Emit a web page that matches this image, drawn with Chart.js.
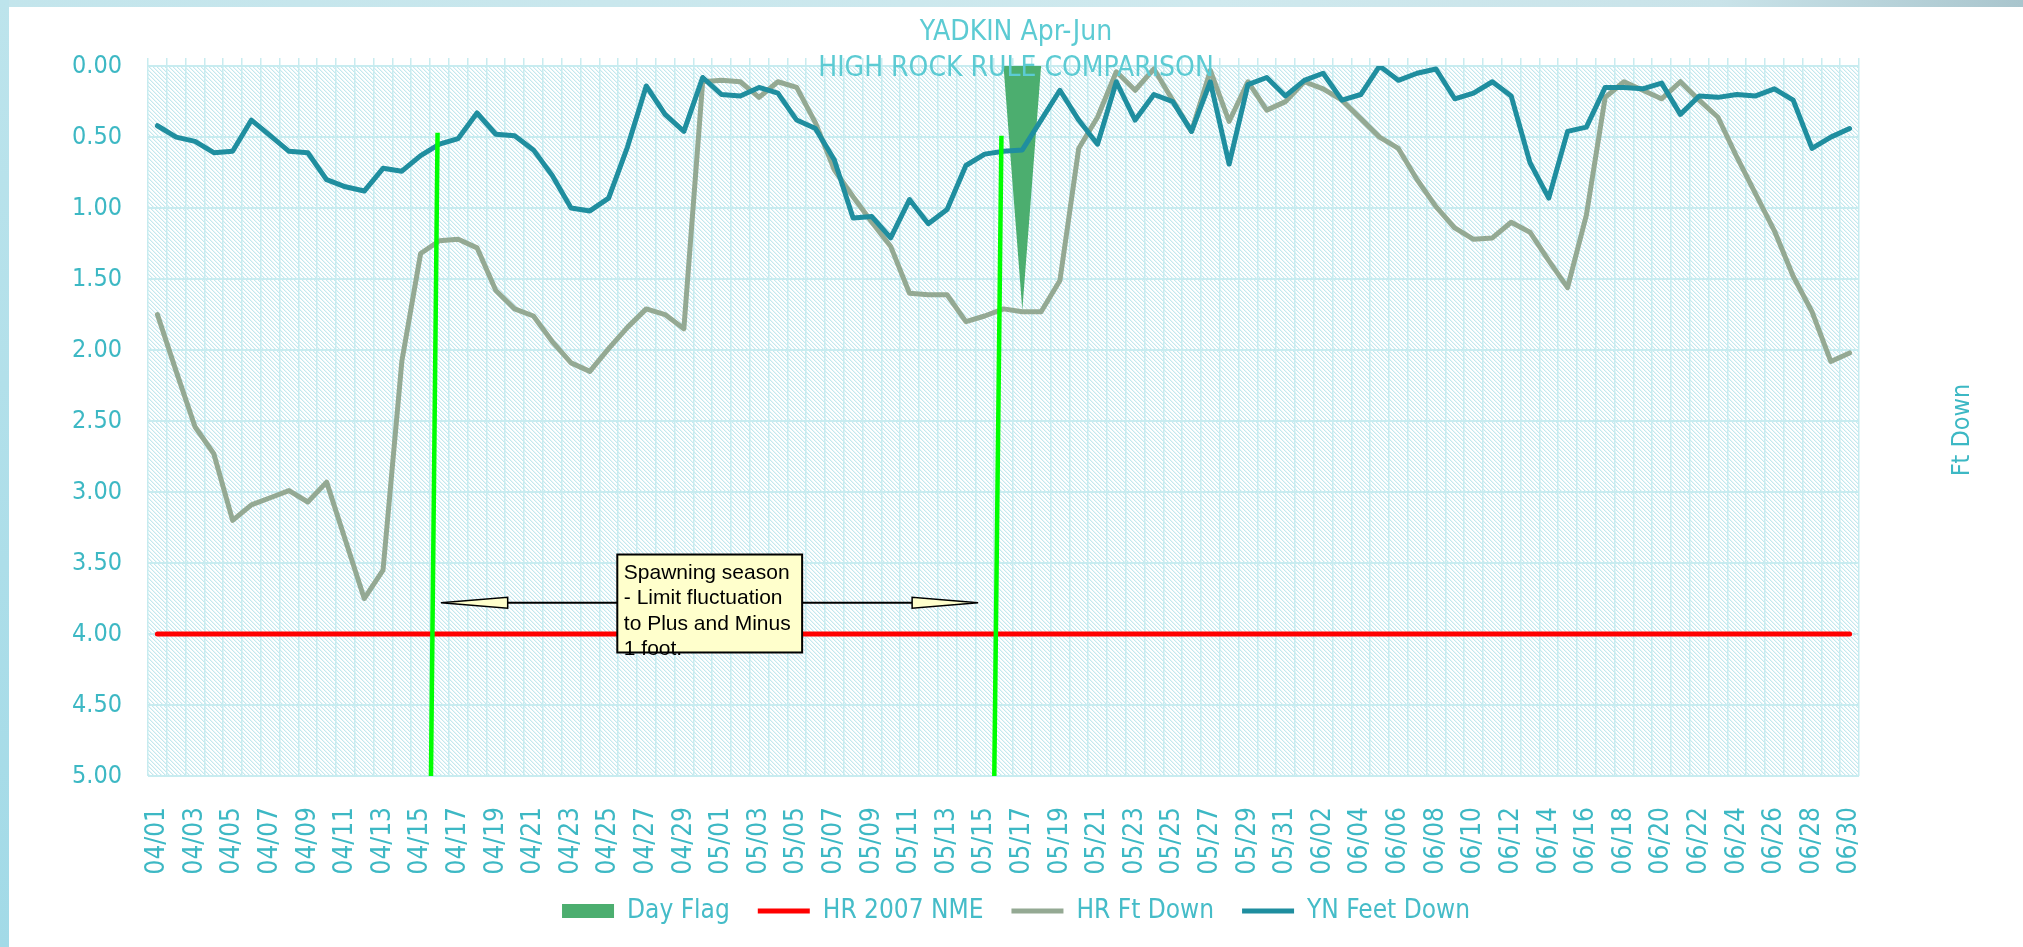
<!DOCTYPE html>
<html><head><meta charset="utf-8">
<script src="https://cdn.jsdelivr.net/npm/chart.js@4.4.1/dist/chart.umd.min.js"></script>
<style>
html,body{margin:0;padding:0;background:#fff;overflow:hidden}
#wrap{position:relative;width:2023px;height:947px;background:#fff}
#topbar{position:absolute;left:0;top:0;width:2023px;height:7px;background:linear-gradient(to right,#c3e5ec 0%,#cfe9ee 60%,#c9e3e9 85%,#a9c5cd 100%)}
#leftbar{position:absolute;left:0;top:0;width:9px;height:947px;background:linear-gradient(to bottom,#bde4ec,#a2dae7)}
#c{position:absolute;left:9px;top:7px}
</style></head><body>
<div id="wrap"><div id="topbar"></div><div id="leftbar"></div><canvas id="c" width="2014" height="940"></canvas></div>
<script>
const categories = [
 '04/01','04/02','04/03','04/04','04/05','04/06','04/07','04/08','04/09','04/10',
 '04/11','04/12','04/13','04/14','04/15','04/16','04/17','04/18','04/19','04/20',
 '04/21','04/22','04/23','04/24','04/25','04/26','04/27','04/28','04/29','04/30',
 '05/01','05/02','05/03','05/04','05/05','05/06','05/07','05/08','05/09','05/10',
 '05/11','05/12','05/13','05/14','05/15','05/16','05/17','05/18','05/19','05/20',
 '05/21','05/22','05/23','05/24','05/25','05/26','05/27','05/28','05/29','05/30','05/31',
 '06/01','06/02','06/03','06/04','06/05','06/06','06/07','06/08','06/09','06/10',
 '06/11','06/12','06/13','06/14','06/15','06/16','06/17','06/18','06/19','06/20',
 '06/21','06/22','06/23','06/24','06/25','06/26','06/27','06/28','06/29','06/30'];

const dayFlag = [
 0,0,0,0,0,0,0,0,0,0, 0,0,0,0,0,0,0,0,0,0, 0,0,0,0,0,0,0,0,0,0,
 0,0,0,0,0,0,0,0,0,0, 0,0,0,0,0,0,1.72,0,0,0, 0,0,0,0,0,0,0,0,0,0,0,
 0,0,0,0,0,0,0,0,0,0, 0,0,0,0,0,0,0,0,0,0, 0,0,0,0,0,0,0,0,0,0];

const hr2007Nme = [
 4,4,4,4,4,4,4,4,4,4, 4,4,4,4,4,4,4,4,4,4, 4,4,4,4,4,4,4,4,4,4,
 4,4,4,4,4,4,4,4,4,4, 4,4,4,4,4,4,4,4,4,4, 4,4,4,4,4,4,4,4,4,4,4,
 4,4,4,4,4,4,4,4,4,4, 4,4,4,4,4,4,4,4,4,4, 4,4,4,4,4,4,4,4,4,4];

const hrFtDown = [
 1.75,2.15,2.54,2.73,3.20,3.09,3.04,2.99,3.07,2.93,
 3.34,3.75,3.55,2.08,1.32,1.23,1.22,1.28,1.58,1.71,
 1.76,1.94,2.09,2.15,1.99,1.84,1.71,1.75,1.85,0.11,
 0.10,0.11,0.22,0.11,0.15,0.40,0.73,0.92,1.10,1.27,
 1.60,1.61,1.61,1.80,1.76,1.71,1.73,1.73,1.51,0.58,
 0.36,0.04,0.17,0.02,0.24,0.46,0.03,0.39,0.11,0.31,0.25,
 0.11,0.16,0.24,0.37,0.50,0.58,0.80,0.99,1.14,1.22,
 1.21,1.10,1.17,1.37,1.56,1.05,0.22,0.11,0.17,0.23,
 0.11,0.24,0.36,0.64,0.90,1.16,1.48,1.73,2.08,2.02];

const ynFeetDown = [
 0.42,0.50,0.53,0.61,0.60,0.38,0.49,0.60,0.61,0.80,
 0.85,0.88,0.72,0.74,0.63,0.55,0.51,0.33,0.48,0.49,
 0.59,0.77,1.00,1.02,0.93,0.57,0.14,0.34,0.46,0.08,
 0.20,0.21,0.15,0.19,0.38,0.44,0.66,1.07,1.06,1.21,
 0.94,1.11,1.01,0.70,0.62,0.60,0.59,0.38,0.17,0.38,
 0.55,0.11,0.38,0.20,0.25,0.46,0.11,0.69,0.13,0.08,0.21,
 0.10,0.05,0.24,0.20,0.00,0.10,0.05,0.02,0.23,0.19,
 0.11,0.21,0.68,0.93,0.46,0.43,0.15,0.15,0.16,0.12,
 0.34,0.21,0.22,0.20,0.21,0.16,0.24,0.58,0.50,0.44];

const yMin = 0, yMax = 5, yStep = 0.5;
const titleLines = ['YADKIN Apr-Jun', 'HIGH ROCK RULE COMPARISON'];
const rightAxisTitle = 'Ft Down';
const noteLines = ['Spawning season', '- Limit fluctuation', 'to Plus and Minus', '1 foot.'];

// annotation shapes, in data units (x = category index, y = ft down)
const spawnLine1 = [{x:14.90, y:0.47}, {x:14.55, y:5.00}];
const spawnLine2 = [{x:44.89, y:0.49}, {x:44.51, y:5.00}];
const noteBox = {x0:24.46, x1:34.29, y0:3.44, y1:4.13};
const arrowY = 3.78;
const leftArrow = {tail:24.46, base:18.63, tip:15.08};
const rightArrow = {tail:34.29, base:40.14, tip:43.65};

const FONT = "'DejaVu Sans Condensed', 'DejaVu Sans', sans-serif";
const GRID = '#c8ecf0';
const AXIS_TEXT = '#3db8c4';

// hatched plot background tile
const tile = document.createElement('canvas');
tile.width = 4; tile.height = 4;
(function(){
  const g = tile.getContext('2d');
  g.fillStyle = '#ffffff'; g.fillRect(0,0,4,4);
  for (let i = 0; i < 4; i++) {
    g.fillStyle = '#c4e8ee'; g.fillRect(i, i, 1, 1);
    g.fillStyle = '#e8f6f8'; g.fillRect((i+1)%4, i, 1, 1);
  }
})();

const bgPlugin = {
  id: 'hatchBg',
  beforeLayout(chart) {
    // draw the chart title above the plotted series, as in the original
    const tb = chart.titleBlock;
    if (tb) tb._layers = function() { return [{z: 1, draw: (area) => this.draw(area)}]; };
  },
  afterLayout(chart) {
    // nudge legend up a little so it sits where the original does
    if (chart.legend) { chart.legend.top -= 5; chart.legend.bottom -= 5; }
  },
  beforeDraw(chart) {
    const {ctx, chartArea: a} = chart;
    ctx.save();
    ctx.fillStyle = ctx.createPattern(tile, 'repeat');
    ctx.fillRect(a.left, a.top, a.right - a.left, a.bottom - a.top);
    ctx.restore();
  }
};

function drawArrow(ctx, xs, ys, a, yv) {
  const y = ys.getPixelForValue(yv);
  const tail = xs.getPixelForValue(a.tail), base = xs.getPixelForValue(a.base), tip = xs.getPixelForValue(a.tip);
  ctx.strokeStyle = '#000'; ctx.lineWidth = 2;
  ctx.beginPath(); ctx.moveTo(tail, y); ctx.lineTo(base, y); ctx.stroke();
  ctx.beginPath(); ctx.moveTo(tip, y); ctx.lineTo(base, y - 5.5); ctx.lineTo(base, y + 5.5); ctx.closePath();
  ctx.fillStyle = '#ffffcc'; ctx.fill(); ctx.lineWidth = 1.5; ctx.stroke();
}

const notePlugin = {
  id: 'note',
  afterDatasetsDraw(chart) {
    const {ctx} = chart;
    const xs = chart.scales.x2, ys = chart.scales.y;
    const l = xs.getPixelForValue(noteBox.x0), r = xs.getPixelForValue(noteBox.x1);
    const t = ys.getPixelForValue(noteBox.y0), b = ys.getPixelForValue(noteBox.y1);
    ctx.save();
    drawArrow(ctx, xs, ys, leftArrow, arrowY);
    drawArrow(ctx, xs, ys, rightArrow, arrowY);
    ctx.fillStyle = '#ffffcc';
    ctx.fillRect(l, t, r - l, b - t);
    ctx.fillStyle = '#000';
    ctx.font = '21px "Liberation Sans", Arial, sans-serif';
    ctx.textAlign = 'left'; ctx.textBaseline = 'alphabetic';
    noteLines.forEach((s, i) => ctx.fillText(s, l + 6.5, t + 24.5 + i * 25.4));
    ctx.strokeStyle = '#000'; ctx.lineWidth = 2;
    ctx.strokeRect(l, t, r - l, b - t);
    ctx.restore();
  },
  afterDraw(chart) {
    const {ctx, chartArea: a} = chart;
    const y2 = chart.scales.y2;
    ctx.save();
    ctx.translate(y2.left + 103, (a.top + a.bottom) / 2 + 9);
    ctx.rotate(-Math.PI / 2);
    ctx.font = '25px ' + FONT;
    ctx.fillStyle = AXIS_TEXT;
    ctx.textAlign = 'center'; ctx.textBaseline = 'middle';
    ctx.fillText(rightAxisTitle, 0, 0);
    ctx.restore();
  }
};

new Chart(document.getElementById('c'), {
  type: 'line',
  data: {
    labels: categories,
    datasets: [
      {label: 'Day Flag', data: dayFlag, order: 4, fill: 'origin', backgroundColor: '#4cae6f',
       borderColor: 'rgba(0,0,0,0)', borderWidth: 0, pointRadius: 0, tension: 0},
      {label: 'HR 2007 NME', data: hr2007Nme, order: 3, borderColor: '#ff0000', backgroundColor: '#ff0000',
       borderWidth: 5, pointRadius: 0, borderCapStyle: 'round', fill: false},
      {label: 'HR Ft Down', data: hrFtDown, order: 2, borderColor: '#94a993', backgroundColor: '#94a993',
       borderWidth: 5, pointRadius: 0, borderCapStyle: 'round', borderJoinStyle: 'round', fill: false, tension: 0},
      {label: 'YN Feet Down', data: ynFeetDown, order: 1, borderColor: '#1f8e9f', backgroundColor: '#1f8e9f',
       borderWidth: 5, pointRadius: 0, borderCapStyle: 'round', borderJoinStyle: 'round', fill: false, tension: 0},
      {label: 'spawn1', data: spawnLine1, xAxisID: 'x2', order: 0, borderColor: '#00ff00',
       borderWidth: 4.5, pointRadius: 0, fill: false},
      {label: 'spawn2', data: spawnLine2, xAxisID: 'x2', order: 0, borderColor: '#00ff00',
       borderWidth: 4.5, pointRadius: 0, fill: false}
    ]
  },
  plugins: [bgPlugin, notePlugin],
  options: {
    responsive: false,
    animation: false,
    devicePixelRatio: 1,
    layout: {padding: {left: 0, right: 0, top: 0, bottom: 8}},
    scales: {
      x: {
        type: 'category', position: 'bottom', offset: true,
        grid: {offset: true, drawTicks: false, color: GRID, lineWidth: 1.5},
        border: {display: false},
        ticks: {
          autoSkip: false, minRotation: 90, maxRotation: 90, padding: 31,
          color: AXIS_TEXT, font: {family: FONT, size: 26},
          callback: (v, i) => (i % 2 === 0 ? categories[i] : '')
        },
        afterFit: s => { s.height = 99; }
      },
      x3: {
        type: 'category', position: 'top', offset: true,
        grid: {offset: true, drawOnChartArea: false, drawTicks: true, tickLength: 8, color: GRID, lineWidth: 1.5},
        border: {display: false},
        ticks: {display: false},
        afterFit: s => { s.height = 8; }
      },
      x2: {type: 'linear', display: false, min: -0.5, max: categories.length - 0.5},
      y: {
        type: 'linear', position: 'left', reverse: true, min: yMin, max: yMax,
        grid: {drawTicks: false, color: GRID, lineWidth: 2},
        border: {display: false},
        ticks: {stepSize: yStep, padding: 26, color: AXIS_TEXT, font: {family: FONT, size: 25},
                callback: v => Number(v).toFixed(2)},
        afterFit: s => { s.width = 139; }
      },
      y2: {
        type: 'linear', position: 'right', display: true,
        grid: {display: false}, border: {display: false}, ticks: {display: false},
        afterFit: s => { s.width = 164; }
      }
    },
    plugins: {
      title: {
        display: true, text: titleLines, color: '#5ccbd3',
        font: {family: FONT, size: 28, weight: 'normal', lineHeight: 1.27},
        padding: {top: 8.25, bottom: -28.25}
      },
      legend: {
        position: 'bottom',
        labels: {
          usePointStyle: true, pointStyleWidth: 52, boxHeight: 14, padding: 28,
          color: '#45bcc8', font: {family: FONT, size: 26},
          filter: item => item.datasetIndex < 4,
          generateLabels(chart) {
            const items = Chart.defaults.plugins.legend.labels.generateLabels(chart);
            items.sort((a, b) => a.datasetIndex - b.datasetIndex);
            items.forEach(it => { it.pointStyle = it.datasetIndex === 0 ? 'rect' : 'line'; });
            return items;
          }
        }
      },
      tooltip: {enabled: false}
    }
  }
});
</script>
</body></html>
